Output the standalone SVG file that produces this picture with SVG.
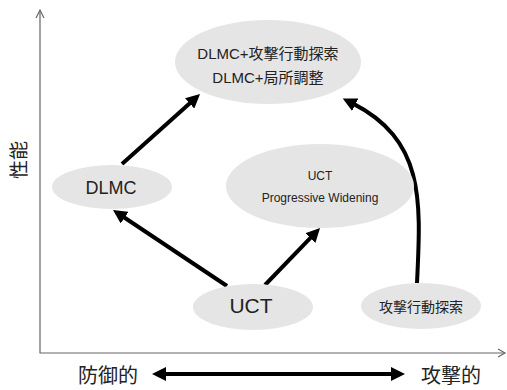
<svg xmlns="http://www.w3.org/2000/svg" width="507" height="390" viewBox="0 0 507 390">
<style>
.node{fill:#e5e5e5;stroke:none}
.t{font-family:"Liberation Sans","Noto Sans CJK JP",sans-serif;fill:#222;text-anchor:middle}
.edge{fill:none;stroke:#000;stroke-width:4}
.axis{fill:none;stroke:#666;stroke-width:1.2}
</style>
<defs>
<marker id="ah" markerUnits="userSpaceOnUse" markerWidth="16" markerHeight="14" refX="4" refY="7" orient="auto-start-reverse">
<path d="M0,0 L14,7 L0,14 z" fill="#000"/>
</marker>
</defs>
<g id="axes">
<polyline class="axis" points="40,11 40,353 505,353"/>
<polyline class="axis" points="36,18 40,10 44,18"/>
<polyline class="axis" points="498,349 505,353 498,357"/>
<text class="t" transform="translate(26,160) rotate(-90)" font-size="19">性能</text>
<text class="t" x="108" y="383" font-size="20">防御的</text>
<text class="t" x="451" y="383" font-size="20">攻撃的</text>
</g>
<g id="connectors">
<path class="edge" d="M122,164 L192.6,100.7" marker-end="url(#ah)"/>
<path class="edge" d="M417,283 C421,200 425,140 351.7,102.9" marker-end="url(#ah)"/>
<path class="edge" d="M227,286 L121.3,215.5" marker-end="url(#ah)"/>
<path class="edge" d="M265,285 L313.1,235.2" marker-end="url(#ah)"/>
<path class="edge" d="M162,374 L395,374" marker-start="url(#ah)" marker-end="url(#ah)"/>
</g>
<g id="top">
<ellipse class="node" cx="268" cy="62" rx="93" ry="42"/>
<text class="t" x="268" y="59" font-size="15">DLMC+攻撃行動探索</text>
<text class="t" x="268" y="83" font-size="15">DLMC+局所調整</text>
</g>
<g id="dlmc">
<ellipse class="node" cx="112" cy="187" rx="60" ry="22"/>
<text class="t" x="111" y="194" font-size="18">DLMC</text>
</g>
<g id="uctpw">
<ellipse class="node" cx="320" cy="186" rx="94" ry="42"/>
<text class="t" x="320" y="180" font-size="12">UCT</text>
<text class="t" x="320" y="202" font-size="12">Progressive Widening</text>
</g>
<g id="uct">
<ellipse class="node" cx="253" cy="307" rx="60" ry="23"/>
<text class="t" x="251" y="313" font-size="21">UCT</text>
</g>
<g id="attack">
<ellipse class="node" cx="421" cy="306" rx="60" ry="23"/>
<text class="t" x="421" y="312" font-size="14">攻撃行動探索</text>
</g>
</svg>
